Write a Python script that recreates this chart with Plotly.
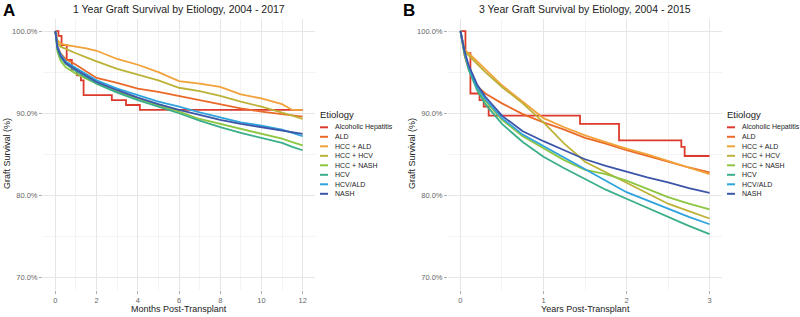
import plotly.graph_objects as go

# ---------------- data ----------------
etiologies = ["Alcoholic Hepatitis", "ALD", "HCC + ALD", "HCC + HCV",
              "HCC + NASH", "HCV", "HCV/ALD", "NASH"]

# Panel A: 1-year graft survival (%), months post-transplant
months = [0, 0.1, 0.25, 0.5, 1, 1.5, 2, 3, 4, 5, 6, 7, 8, 9, 10, 11, 11.5, 12]
a_ald      = [100, 98.2, 97.3, 96.6, 95.9, 95.1, 94.3, 93.7, 93.0, 92.6, 92.1, 91.6, 91.1, 90.6, 90.2, 89.9, 89.8, 89.6]
a_hcc_ald  = [100, 98.9, 98.5, 98.3, 98.1, 97.9, 97.6, 96.6, 95.9, 95.0, 93.9, 93.6, 93.2, 92.3, 91.8, 91.1, 90.4, 90.4]
a_hcc_hcv  = [100, 98.6, 98.1, 97.8, 97.3, 96.8, 96.3, 95.4, 94.7, 94.0, 93.1, 92.7, 92.1, 91.4, 90.8, 90.1, 89.7, 89.3]
a_hcc_nash = [100, 97.5, 96.4, 95.6, 94.8, 94.2, 93.6, 92.6, 91.8, 91.0, 90.2, 89.3, 88.7, 88.1, 87.5, 86.9, 86.5, 86.1]
a_hcv      = [100, 97.8, 96.8, 96.0, 95.1, 94.3, 93.6, 92.5, 91.6, 90.8, 90.0, 89.1, 88.3, 87.6, 87.0, 86.4, 85.9, 85.5]
a_hcv_ald  = [100, 98.1, 97.2, 96.3, 95.5, 94.7, 94.0, 93.0, 92.2, 91.4, 90.8, 90.1, 89.5, 88.9, 88.5, 88.0, 87.6, 87.2]
a_nash     = [100, 98.0, 97.0, 96.1, 95.3, 94.5, 93.8, 92.8, 91.9, 91.1, 90.4, 89.8, 89.2, 88.7, 88.3, 87.9, 87.7, 87.5]
a_ah_months = [0, 0.15, 0.3, 0.55, 0.8, 1.05, 1.24, 1.37, 2.74, 3.43, 4.1, 12]
a_ah_surv   = [100, 99.4, 98.3, 96.5, 95.3, 94.6, 94.0, 92.2, 91.6, 91.0, 90.4, 90.4]

# Panel B: 3-year graft survival (%), years post-transplant
years = [0, 0.05, 0.1, 0.2, 0.3, 0.5, 0.75, 1, 1.25, 1.5, 1.75, 2, 2.25, 2.5, 2.75, 3]
b_ald      = [100, 97.0, 95.3, 93.3, 92.4, 91.2, 89.9, 88.9, 88.0, 87.0, 86.3, 85.5, 84.8, 84.1, 83.4, 82.8]
b_hcc_ald  = [100, 97.7, 97.3, 96.3, 95.3, 93.4, 91.4, 89.4, 88.3, 87.3, 86.5, 85.7, 85.0, 84.2, 83.4, 82.6]
b_hcc_hcv  = [100, 97.6, 97.0, 96.0, 95.0, 93.2, 91.2, 88.9, 86.3, 84.1, 82.8, 81.6, 80.3, 79.0, 78.1, 77.2]
b_hcc_nash = [100, 97.2, 95.4, 93.0, 91.5, 89.2, 87.2, 85.8, 84.3, 83.1, 82.6, 81.8, 80.8, 79.8, 79.0, 78.3]
b_hcv      = [100, 97.2, 95.3, 92.8, 91.1, 88.7, 86.5, 84.7, 83.3, 82.0, 80.7, 79.6, 78.5, 77.4, 76.3, 75.3]
b_hcv_ald  = [100, 97.4, 95.6, 93.2, 91.7, 89.4, 87.4, 86.0, 84.6, 83.3, 81.8, 80.4, 79.4, 78.4, 77.4, 76.5]
b_nash     = [100, 97.5, 95.8, 93.5, 92.0, 89.7, 87.8, 86.6, 85.5, 84.4, 83.6, 82.9, 82.2, 81.6, 80.9, 80.3]
b_ah_years = [0, 0.06, 0.12, 0.23, 0.28, 0.34, 1.44, 1.91, 2.66, 2.70, 3]
b_ah_surv  = [100, 97.3, 92.4, 91.6, 90.8, 89.7, 88.7, 86.7, 85.9, 84.8, 84.8]

y_ticks = [70, 80, 90, 100]

# ---------------- styles ----------------
colors = ["#DC3A2C", "#EA6A2A", "#F2A23A", "#BDB238",
          "#8DC641", "#3BAE8C", "#2EA3DC", "#3D55A8"]
FONT = "Liberation Sans, Arial, sans-serif"
W, H = 800, 317

def px(x):
    return x / W

def py(y):
    return 1 - y / H

fig = go.Figure()

a_series = [(a_ah_months, a_ah_surv), (months, a_ald), (months, a_hcc_ald), (months, a_hcc_hcv),
            (months, a_hcc_nash), (months, a_hcv), (months, a_hcv_ald), (months, a_nash)]
b_series = [(b_ah_years, b_ah_surv), (years, b_ald), (years, b_hcc_ald), (years, b_hcc_hcv),
            (years, b_hcc_nash), (years, b_hcv), (years, b_hcv_ald), (years, b_nash)]

for i, (xs, ys) in enumerate(a_series):
    fig.add_trace(go.Scatter(x=xs, y=ys, mode="lines", name=etiologies[i],
                             line=dict(color=colors[i], width=1.8,
                                       shape="hv" if i == 0 else "linear"),
                             xaxis="x", yaxis="y", showlegend=False))
for i, (xs, ys) in enumerate(b_series):
    fig.add_trace(go.Scatter(x=xs, y=ys, mode="lines", name=etiologies[i],
                             line=dict(color=colors[i], width=1.8,
                                       shape="hv" if i == 0 else "linear"),
                             xaxis="x2", yaxis="y2", showlegend=False))

grid_major = "#E6E6E6"
grid_minor = "#F3F3F3"
tickfont = dict(family=FONT, size=7.5, color="#666666")

ydom = [py(290), py(18.7)]
yaxis_common = dict(range=[68.5, 101.5], tickmode="array", tickvals=y_ticks,
                    ticktext=[f"{v:.1f}%" for v in y_ticks],
                    showgrid=True, gridcolor=grid_major, gridwidth=1,
                    zeroline=False, showline=False, ticks="outside", ticklen=3,
                    tickcolor="#999999", tickwidth=0.8, tickfont=tickfont,
                    minor=dict(tickmode="array", tickvals=[75, 85, 95], showgrid=True,
                               gridcolor=grid_minor, gridwidth=1, ticks=""),
                    domain=ydom, fixedrange=True)

fig.update_layout(
    width=W, height=H, margin=dict(l=0, r=0, t=0, b=0),
    paper_bgcolor="white", plot_bgcolor="white",
    font=dict(family=FONT, color="#222222"),
    xaxis=dict(domain=[px(43), px(315)], range=[-0.6, 12.6], tickmode="array",
               tickvals=[0, 2, 4, 6, 8, 10, 12], showgrid=True, gridcolor=grid_major,
               zeroline=False, showline=False, ticks="outside", ticklen=3,
               tickcolor="#999999", tickwidth=0.8, tickfont=tickfont,
               minor=dict(tickmode="array", tickvals=[1, 3, 5, 7, 9, 11], showgrid=True,
                          gridcolor=grid_minor, ticks=""),
               anchor="y", fixedrange=True),
    yaxis=dict(**yaxis_common, anchor="x"),
    xaxis2=dict(domain=[px(448), px(722)], range=[-0.15, 3.15], tickmode="array",
                tickvals=[0, 1, 2, 3], showgrid=True, gridcolor=grid_major,
                zeroline=False, showline=False, ticks="outside", ticklen=3,
                tickcolor="#999999", tickwidth=0.8, tickfont=tickfont,
                minor=dict(tickmode="array", tickvals=[0.5, 1.5, 2.5], showgrid=True,
                           gridcolor=grid_minor, ticks=""),
                anchor="y2", fixedrange=True),
    yaxis2=dict(**yaxis_common, anchor="x2"),
    showlegend=False,
)

ann = []
shapes = []

def text(x, y, s, size, xanchor="center", color="#222222", angle=0, bold=False):
    ann.append(dict(x=px(x), y=py(y), xref="paper", yref="paper", text=f"<b>{s}</b>" if bold else s,
                    showarrow=False, xanchor=xanchor, yanchor="middle", textangle=angle,
                    font=dict(family=FONT, size=size, color=color)))

# panel letters and titles
text(1, 10, "A", 17, xanchor="left", color="#000000", bold=True)
text(401, 10, "B", 17, xanchor="left", color="#000000", bold=True)
text(179, 9, "1 Year Graft Survival by Etiology, 2004 - 2017", 10.5)
text(585, 9, "3 Year Graft Survival by Etiology, 2004 - 2015", 10.5)
# axis titles
text(179, 309, "Months Post-Transplant", 9)
text(585, 309, "Years Post-Transplant", 9)
text(7, 154, "Graft Survival (%)", 9, angle=-90)
text(412, 154, "Graft Survival (%)", 9, angle=-90)

# legends
legend_rows = [127.3, 136.8, 146.3, 155.8, 165.3, 174.8, 184.3, 193.8]
for x0, sw0, sw1, tx in [(318, 320, 328, 333), (725, 727, 735, 740)]:
    text(x0, 114, "Etiology", 9.5, xanchor="left")
    for i, name in enumerate(etiologies):
        yy = legend_rows[i]
        shapes.append(dict(type="line", xref="paper", yref="paper",
                           x0=px(sw0), x1=px(sw1), y0=py(yy), y1=py(yy),
                           line=dict(color=colors[i], width=2)))
        text(tx, yy, name, 7, xanchor="left")

fig.update_layout(annotations=ann, shapes=shapes, hovermode=False)
fig.write_html("out.html", config={"displayModeBar": False, "staticPlot": True},
               post_script="document.body.style.margin='0';document.body.style.padding='0';"
                           "document.body.style.overflow='hidden';")
